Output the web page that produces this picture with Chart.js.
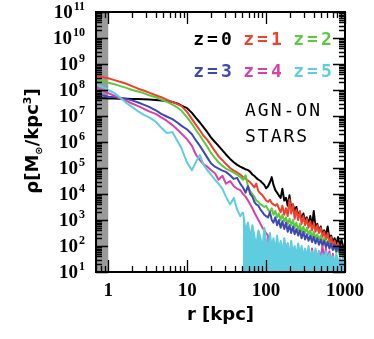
<!DOCTYPE html>
<html>
<head>
<meta charset="utf-8">
<script src="https://cdn.jsdelivr.net/npm/chart.js@4.4.1/dist/chart.umd.min.js"></script>
<style>
  html, body { margin: 0; padding: 0; background: #fff; }
</style>
</head>
<body>
<canvas id="profileChart" width="374" height="339"></canvas>
<script>
// radius in kpc (shared by all redshifts)
const radius = [
  0.7, 0.8, 0.9, 1.0, 1.2, 1.4, 1.7, 2.0, 2.4, 2.8,
  3.3, 4.0, 4.7, 5.5, 6.5, 7.5, 8.5, 10, 11.5, 13,
  14.5, 16, 18, 20, 22.5, 25, 28, 31, 35, 39,
  43, 47, 51, 55, 59, 63, 67, 71, 75, 80,
  85, 90, 95, 100, 106, 112, 118, 124, 131, 138,
  145, 153, 161, 170, 179, 188, 198, 208, 219, 230,
  242, 255, 268, 282, 297, 312, 328, 345, 363, 382,
  402, 423, 445, 468, 492, 518, 545, 573, 603, 634,
  667, 702, 738, 776, 816, 858, 903, 950, 1000
];

// log10 of stellar density [Msun/kpc^3]; 0 = empty bin (below the axis)
const logRhoZ0 = [
  7.68, 7.68, 7.68, 7.67, 7.67, 7.66, 7.66, 7.65, 7.65, 7.64,
  7.63, 7.62, 7.60, 7.58, 7.54, 7.48, 7.40, 7.30, 7.12, 6.92,
  6.75, 6.58, 6.38, 6.18, 6.00, 5.85, 5.68, 5.52, 5.35, 5.22,
  5.12, 5.05, 5.00, 4.95, 4.92, 4.85, 4.75, 4.70, 4.62, 4.55,
  4.50, 4.42, 4.35, 4.22, 4.30, 4.45, 4.65, 4.35, 4.15, 4.05,
  3.95, 3.85, 4.20, 3.75, 3.85, 3.55, 3.95, 3.45, 3.60, 3.35,
  3.50, 3.20, 3.30, 3.05, 3.25, 2.95, 3.10, 2.85, 3.15, 2.75,
  3.35, 2.70, 2.85, 2.55, 2.75, 2.45, 2.60, 2.40, 2.75, 2.25,
  2.40, 2.15, 2.30, 2.05, 2.35, 2.00, 2.25, 1.95, 2.05
];
const logRhoZ1 = [
  8.55, 8.52, 8.48, 8.45, 8.38, 8.32, 8.24, 8.15, 8.05, 7.98,
  7.90, 7.80, 7.72, 7.63, 7.54, 7.46, 7.38, 7.15, 6.88, 6.65,
  6.45, 6.25, 6.08, 5.88, 5.65, 5.45, 5.30, 5.15, 5.00, 4.90,
  4.82, 4.75, 4.65, 4.58, 4.52, 4.45, 4.35, 4.25, 4.40, 4.10,
  4.02, 3.95, 3.85, 3.75, 3.70, 3.78, 3.65, 3.60, 3.55, 3.62,
  3.45, 3.30, 3.55, 3.20, 3.45, 3.15, 3.80, 3.25, 3.60, 3.05,
  3.40, 3.00, 3.35, 2.85, 3.15, 2.80, 3.05, 2.70, 2.95, 2.60,
  2.90, 2.55, 2.80, 2.50, 2.70, 2.35, 2.55, 2.25, 2.50, 2.10,
  2.35, 2.00, 2.20, 1.90, 2.10, 1.80, 2.00, 1.70, 1.90
];
const logRhoZ2 = [
  8.38, 8.35, 8.32, 8.28, 8.22, 8.16, 8.08, 8.00, 7.94, 7.88,
  7.80, 7.72, 7.63, 7.55, 7.44, 7.33, 7.20, 6.95, 6.70, 6.45,
  6.25, 6.05, 5.82, 5.58, 5.38, 5.22, 5.08, 4.98, 4.90, 4.82,
  4.75, 4.65, 4.55, 4.72, 4.30, 4.10, 4.00, 3.90, 3.75, 3.70,
  3.60, 3.55, 3.50, 3.55, 3.40, 3.30, 3.45, 3.20, 3.35, 3.10,
  3.25, 3.00, 3.20, 2.95, 3.10, 2.85, 3.05, 2.80, 3.00, 2.70,
  2.90, 2.60, 2.85, 2.55, 2.75, 2.50, 2.70, 2.45, 2.60, 2.35,
  2.55, 2.30, 2.45, 2.25, 2.40, 2.15, 2.30, 2.05, 2.20, 1.95,
  2.10, 1.85, 2.00, 1.75, 1.90, 1.65, 1.80, 1.55, 1.65
];
const logRhoZ3 = [
  7.82, 7.80, 7.78, 7.74, 7.72, 7.70, 7.66, 7.60, 7.52, 7.44,
  7.35, 7.22, 7.08, 6.98, 6.88, 6.75, 6.62, 6.48, 6.30, 6.05,
  5.85, 5.65, 5.40, 5.18, 5.05, 4.98, 4.90, 4.85, 4.72, 4.58,
  4.62, 4.40, 4.25, 4.05, 4.30, 4.00, 3.90, 3.70, 3.60, 3.55,
  3.40, 3.30, 3.20, 3.15, 3.10, 3.30, 3.00, 2.90, 3.10, 2.80,
  3.00, 2.70, 2.95, 2.65, 2.90, 2.55, 2.80, 2.50, 2.75, 2.45,
  2.65, 2.40, 2.60, 2.30, 2.55, 2.25, 2.45, 2.20, 2.40, 2.15,
  2.35, 2.10, 2.30, 2.05, 2.25, 2.00, 2.20, 1.95, 2.15, 1.90,
  2.10, 1.85, 2.05, 1.80, 2.00, 1.75, 1.95, 1.70, 2.10
];
const logRhoZ4 = [
  8.12, 8.02, 7.94, 7.88, 7.78, 7.68, 7.58, 7.48, 7.38, 7.28,
  7.18, 7.08, 6.95, 6.82, 6.65, 6.48, 6.32, 6.10, 5.85, 5.50,
  5.30, 5.15, 5.05, 4.92, 4.80, 4.55, 4.70, 4.40, 4.50, 4.30,
  4.20, 4.15, 4.00, 3.90, 3.75, 3.60, 3.45, 3.30, 3.15, 3.00,
  2.85, 2.70, 2.60, 2.50, 2.40, 0, 1.80, 0, 1.60, 1.90,
  1.50, 2.00, 1.40, 1.80, 1.30, 2.10, 1.20, 1.90, 1.50, 1.30,
  0, 1.60, 1.30, 1.70, 1.20, 1.80, 1.30, 1.60, 1.20, 1.90,
  1.40, 1.70, 1.20, 1.80, 1.50, 2.00, 1.50, 1.90, 1.40, 1.80,
  1.30, 1.70, 1.20, 1.60, 1.30, 1.50, 1.20, 1.40, 1.60
];
const logRhoZ5 = [
  8.20, 8.15, 8.08, 8.00, 7.88, 7.72, 7.50, 7.35, 7.18, 7.05,
  6.95, 6.78, 6.55, 6.35, 6.38, 6.05, 5.75, 5.20, 4.92, 5.25,
  5.50, 5.15, 4.92, 4.75, 4.55, 4.40, 4.20, 3.90, 3.60, 3.85,
  3.40, 3.15, 3.30, 2.60, 2.90, 2.30, 2.80, 2.40, 2.00, 2.60,
  2.30, 1.90, 2.70, 2.20, 1.80, 2.50, 1.90, 2.30, 1.80, 2.40,
  1.80, 2.20, 1.70, 2.30, 1.80, 2.10, 1.60, 2.20, 1.70, 2.00,
  1.60, 2.10, 1.70, 2.00, 1.60, 1.90, 1.60, 2.00, 1.50, 1.80,
  1.50, 1.90, 1.50, 1.80, 1.40, 1.70, 1.50, 1.80, 1.40, 1.70,
  1.40, 1.60, 1.30, 1.70, 1.40, 1.50, 1.30, 1.60, 1.40
];
const z5FilledFrom = 51; // kpc, beyond this the z=5 profile is a noisy band down to the axis

const seriesLabels = ['z=0', 'z=1', 'z=2', 'z=3', 'z=4', 'z=5'];
const seriesValues = [logRhoZ0, logRhoZ1, logRhoZ2, logRhoZ3, logRhoZ4, logRhoZ5];
const lineColors = ['#000000', '#f0402e', '#5ec83e', '#3e48b2', '#d842a8', '#5ecde0'];

const xTickValues = [1, 10, 100, 1000];
const yTickValues = [1e1, 1e2, 1e3, 1e4, 1e5, 1e6, 1e7, 1e8, 1e9, 1e10, 1e11];
const resolutionLimit = 1; // kpc, grey band

const decor = {
    id: 'decor',
    beforeDatasetsDraw(chart) {
        const { ctx, chartArea: a, scales: { x } } = chart;
        ctx.save();
        ctx.fillStyle = '#9a9a9a';
        ctx.fillRect(a.left, a.top, x.getPixelForValue(resolutionLimit) - a.left, a.bottom - a.top);
        ctx.restore();
    },
    afterDatasetsDraw(chart) {
        const { ctx, chartArea: a, scales: { x, y } } = chart;
        ctx.save();
        ctx.strokeStyle = '#000';
        ctx.lineWidth = 1.3;
        ctx.beginPath();
        for (let d = -1; d <= 3; d++) {
            for (let m = 1; m <= 9; m++) {
                const v = m * Math.pow(10, d);
                if (v < x.min || v > x.max) continue;
                const px = Math.round(x.getPixelForValue(v)) + 0.5;
                const len = m === 1 ? 12 : 6;
                ctx.moveTo(px, a.bottom); ctx.lineTo(px, a.bottom - len);
                ctx.moveTo(px, a.top); ctx.lineTo(px, a.top + len);
            }
        }
        for (let d = 1; d <= 11; d++) {
            for (let m = 1; m <= 9; m++) {
                const v = m * Math.pow(10, d);
                if (v > y.max) continue;
                const py = Math.round(y.getPixelForValue(v)) + 0.5;
                const len = m === 1 ? 12 : 6;
                ctx.moveTo(a.left, py); ctx.lineTo(a.left + len, py);
                ctx.moveTo(a.right, py); ctx.lineTo(a.right - len, py);
            }
        }
        ctx.stroke();
        ctx.lineWidth = 2;
        ctx.strokeRect(a.left, a.top, a.right - a.left, a.bottom - a.top);
        ctx.restore();
    },
    afterDraw(chart) {
        const { ctx, chartArea: a, scales: { x, y } } = chart;
        ctx.save();
        ctx.fillStyle = '#000';

        // tick labels
        ctx.textBaseline = 'middle';
        ctx.textAlign = 'center';
        ctx.font = 'bold 19px "Liberation Serif"';
        xTickValues.forEach(v => ctx.fillText(String(v), x.getPixelForValue(v), a.bottom + 19));
        ctx.textAlign = 'left';
        yTickValues.forEach(v => {
            const py = y.getPixelForValue(v);
            const exp = String(Math.round(Math.log10(v)));
            ctx.font = 'bold 12px "Liberation Serif"';
            const we = ctx.measureText(exp).width;
            ctx.font = 'bold 19px "Liberation Serif"';
            const wb = ctx.measureText('10').width;
            const left = 85 - we - wb - 1;
            ctx.fillText('10', left, py + 1);
            ctx.font = 'bold 12px "Liberation Serif"';
            ctx.fillText(exp, left + wb + 1, py - 5);
        });

        // legend labels
        ctx.font = 'bold 18px "DejaVu Sans Mono"';
        ctx.letterSpacing = '3px';
        ctx.textAlign = 'center';
        const cols = [214, 264, 314];
        const rows = [40, 72];
        seriesLabels.forEach((lab, i) => {
            ctx.fillStyle = lineColors[i];
            ctx.fillText(lab, cols[i % 3], rows[Math.floor(i / 3)]);
        });
        ctx.fillStyle = '#000';
        ctx.font = '18px "DejaVu Sans Mono"';
        ctx.letterSpacing = '2px';
        ctx.textAlign = 'left';
        ctx.fillText('AGN-ON', 245, 111);
        ctx.fillText('STARS', 245, 137);

        // y axis title with sub/superscripts
        ctx.letterSpacing = '0px';
        ctx.translate(31, 141);
        ctx.rotate(-Math.PI / 2);
        ctx.textBaseline = 'alphabetic';
        const parts = [
            { t: 'ρ[M', f: 'bold 18px "DejaVu Sans"', dy: 0 },
            { t: '⊙', f: 'bold 10px "DejaVu Sans"', dy: 4 },
            { t: '/kpc', f: 'bold 18px "DejaVu Sans"', dy: 0 },
            { t: '3', f: 'bold 11px "DejaVu Sans"', dy: -7 },
            { t: ']', f: 'bold 18px "DejaVu Sans"', dy: 0 }
        ];
        let total = 0;
        parts.forEach(p => { ctx.font = p.f; p.w = ctx.measureText(p.t).width; total += p.w; });
        let cx = -total / 2;
        parts.forEach(p => {
            ctx.font = p.f;
            ctx.fillText(p.t, cx, 6.5 + p.dy);
            cx += p.w;
        });
        ctx.restore();
    }
};

new Chart(document.getElementById('profileChart'), {
    type: 'line',
    data: {
        datasets: seriesValues.map((vals, i) => ({
            label: seriesLabels[i],
            data: radius.map((r, j) => ({ x: r, y: Math.pow(10, vals[j]) })),
            borderColor: lineColors[i],
            backgroundColor: 'rgba(0,0,0,0)',
            borderWidth: 2,
            borderJoinStyle: 'round',
            pointRadius: 0,
            tension: 0,
            order: 5 - i,
            fill: i === 5 ? 'start' : false,
            segment: i === 5 ? {
                backgroundColor: c => c.p0.parsed.x >= z5FilledFrom ? lineColors[5] : 'rgba(0,0,0,0)'
            } : undefined
        }))
    },
    options: {
        responsive: false,
        animation: false,
        events: [],
        layout: { padding: { top: 12, right: 29, left: 0, bottom: 0 } },
        plugins: { legend: { display: false }, tooltip: { enabled: false } },
        scales: {
            x: {
                type: 'logarithmic',
                min: 0.705,
                max: 1000,
                afterFit: s => { s.height = 67; },
                grid: { display: false, drawTicks: false },
                border: { display: false },
                ticks: { display: false },
                title: {
                    display: true, text: 'r [kpc]', color: '#000',
                    font: { family: '"DejaVu Sans"', size: 18, weight: 'bold' },
                    padding: { top: 0, bottom: 13 }
                }
            },
            y: {
                type: 'logarithmic',
                min: 10,
                max: 1e11,
                afterFit: s => { s.width = 96; },
                grid: { display: false, drawTicks: false },
                border: { display: false },
                ticks: { display: false }
            }
        }
    },
    plugins: [decor]
});
</script>
</body>
</html>
